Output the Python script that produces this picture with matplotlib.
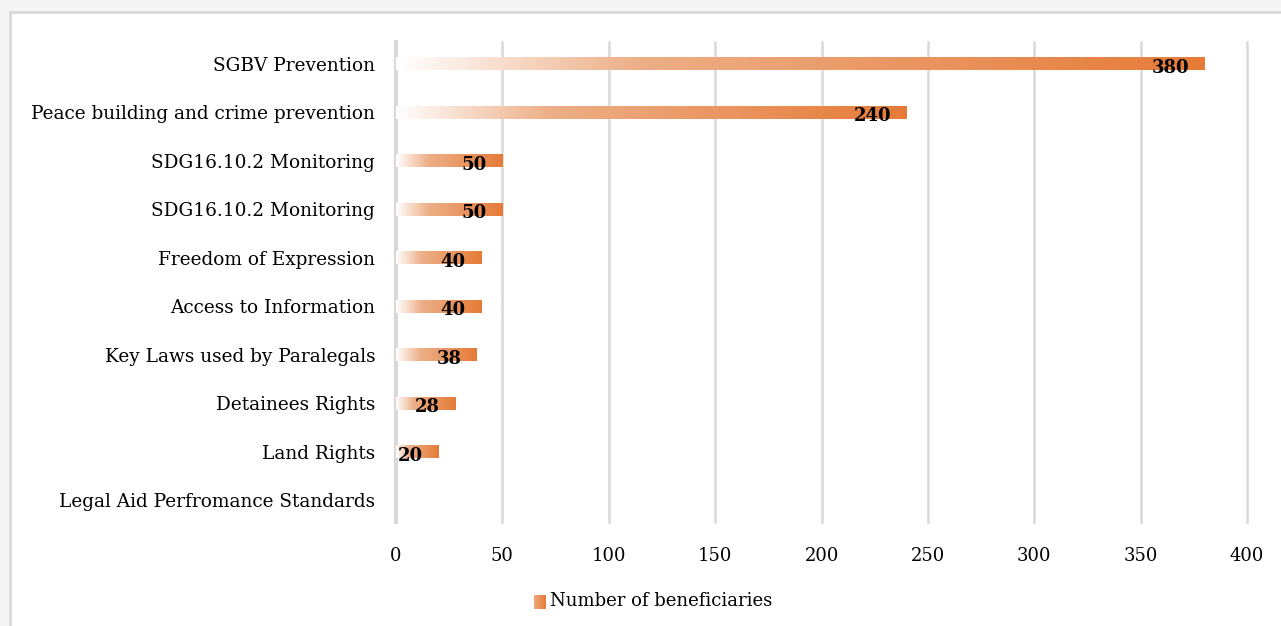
import numpy as np
import matplotlib
matplotlib.use("Agg")
import matplotlib.pyplot as plt
from matplotlib.colors import LinearSegmentedColormap
from matplotlib.patches import Rectangle

categories = [
    "SGBV Prevention",
    "Peace building and crime prevention",
    "SDG16.10.2 Monitoring",
    "SDG16.10.2 Monitoring",
    "Freedom of Expression",
    "Access to Information",
    "Key Laws used by Paralegals",
    "Detainees Rights",
    "Land Rights",
    "Legal Aid Perfromance Standards",
]
values = [380, 240, 50, 50, 40, 40, 38, 28, 20, 0]
series_name = "Number of beneficiaries"
xticks = [0, 50, 100, 150, 200, 250, 300, 350, 400]

plt.rcParams['font.family'] = ['DejaVu Serif']

W, H = 1281, 626
fig = plt.figure(figsize=(W/100, H/100), dpi=100, facecolor='#F5F5F5')

# white chart area with light border on left/top (extends past right/bottom edges)
fig.patches.append(Rectangle((10/W, -0.05), 1.1, 1 - 12/H + 0.05, transform=fig.transFigure,
                             facecolor='white', edgecolor='#D9D9D9', linewidth=2, zorder=-10))

ax = fig.add_axes([396/W, 1 - 522/H, (1247-396)/W, (522-42)/H])
ax.set_facecolor('none')

cmap = LinearSegmentedColormap.from_list(
    "grad", [(0.0, "#FFFFFF"), (0.3, "#EDAF87"), (1.0, "#E67B38")])
ypos = np.arange(len(categories))
bars = ax.barh(ypos, values, height=0.26, color="none", zorder=3)
grad = np.linspace(0.0, 1.0, 256).reshape(1, -1)
for b, v in zip(bars, values):
    if v <= 0:
        continue
    x0, y0 = b.get_x(), b.get_y()
    ax.imshow(grad, cmap=cmap, aspect='auto', extent=[x0, x0 + b.get_width(), y0 + b.get_height(), y0],
              zorder=3, interpolation='bilinear', vmin=0, vmax=1)

for b, v in zip(bars, values):
    if v <= 0:
        continue
    ax.annotate(f"{v}", (v, b.get_y() + b.get_height()/2), xytext=(-11, -3), textcoords='offset points',
                ha='right', va='center', fontsize=13, fontweight='bold', color='black', zorder=5)

ax.set_xlim(0, 400)
ax.set_ylim(len(categories) - 0.55, -0.45)
ax.set_yticks(ypos)
ax.set_yticklabels(categories, fontsize=13.3)
ax.set_xticks(xticks)
ax.set_xticklabels([str(t) for t in xticks], fontsize=13)
ax.tick_params(axis='both', length=0)
ax.tick_params(axis='y', pad=15)
ax.tick_params(axis='x', pad=18)
ax.grid(axis='x', color='#D9D9D9', linewidth=1.8, zorder=0)
for gl in ax.get_xgridlines():
    gl.set_clip_on(False)
ax.set_axisbelow(True)
for s in ['top', 'right', 'bottom']:
    ax.spines[s].set_visible(False)
ax.spines['left'].set_color('#D9D9D9')
ax.spines['left'].set_linewidth(3)

# legend
lax = fig.add_axes([534/W, 1 - 609/H, 12/W, 14/H])
lax.imshow(grad, cmap=cmap, aspect='auto', extent=[0, 1, 0, 1], vmin=-0.6, vmax=1)
lax.set_axis_off()
fig.text(550/W, 1 - 601/H, series_name, fontsize=13, va='center', ha='left')

fig.savefig("out.png", dpi=100, facecolor=fig.get_facecolor())
